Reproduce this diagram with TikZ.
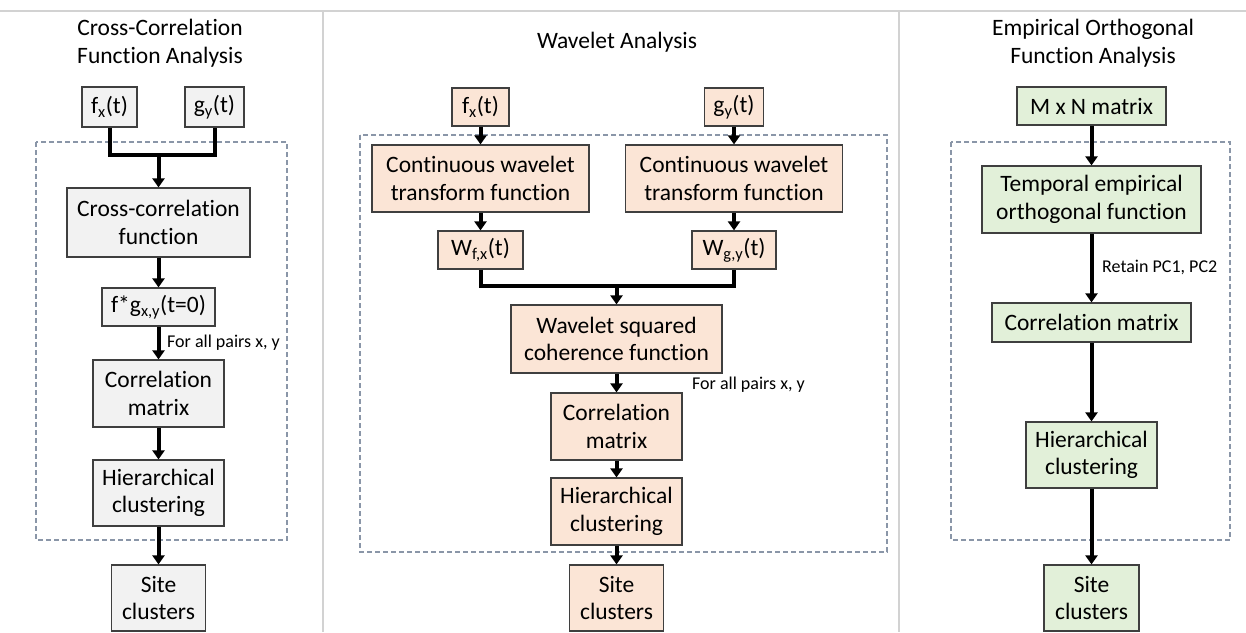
\documentclass[tikz,border=0pt]{standalone}
\usepackage{fontspec}
\setmainfont{Carlito}[Ligatures=NoCommon]
\usetikzlibrary{arrows.meta}

\definecolor{fillgray}{HTML}{F2F2F2}
\definecolor{fillpeach}{HTML}{FBE5D6}
\definecolor{fillgreen}{HTML}{E2F0D9}
\definecolor{edgegray}{HTML}{3F3F3F}
\definecolor{framegray}{HTML}{8A96A8}
\definecolor{rulegray}{HTML}{D2D2D2}

\begin{document}
\begin{tikzpicture}[x=1pt, y=-1pt, >={Triangle[length=9pt,width=12pt]},
    every node/.style={font=\fontsize{23.5}{27.5}\selectfont, text=black, align=center, inner sep=0pt},
    stage/.style={draw=edgegray, line width=1.2pt},
    ccbox/.style={stage, fill=fillgray},
    wvbox/.style={stage, fill=fillpeach},
    eofbox/.style={stage, fill=fillgreen},
    flow/.style={->, line width=4pt},
    link/.style={line width=4pt, line join=miter},
    frame/.style={draw=framegray, line width=1.1pt, dash pattern=on 5pt off 3pt},
    note/.style={font=\fontsize{18}{22}\selectfont, anchor=west}]

    \useasboundingbox (0,0) rectangle (1246,632);

    % panel rules
    \draw[rulegray, line width=1.5pt] (0,11) -- (1246,11);
    \draw[rulegray, line width=1.5pt] (323,11) -- (323,632);
    \draw[rulegray, line width=1.5pt] (899,11) -- (899,632);

    % dashed frames round each method
    \draw[frame] (36,142) rectangle (287,540);
    \draw[frame] (360,135) rectangle (887,552);
    \draw[frame] (951,142) rectangle (1230,540);

    % cross-correlation column
    \node (titleL) at (160,43) {Cross-Correlation\\Function Analysis};
    \node[ccbox, minimum width=55pt, minimum height=40pt] (fxL) at (109.5,107) {f\textsubscript{x}(t)};
    \node[ccbox, minimum width=59pt, minimum height=40pt] (gyL) at (214.5,107) {g\textsubscript{y}(t)};
    \node[ccbox, minimum width=183pt, minimum height=69pt] (ccfL) at (158.5,222.5) {Cross-correlation\\function};
    \node[ccbox, minimum width=113pt, minimum height=38pt] (fgL) at (158.5,307) {f*g\textsubscript{x,y}(t=0)};
    \node[ccbox, minimum width=131pt, minimum height=67pt] (cmL) at (158.5,393.5) {Correlation\\matrix};
    \node[ccbox, minimum width=131pt, minimum height=66pt] (hcL) at (158.5,493) {Hierarchical\\clustering};
    \node[ccbox, minimum width=94pt, minimum height=66pt] (scL) at (158.5,598) {Site\\clusters};
    \coordinate (joinL) at (158.5,155);
    \node[note] (pairsL) at (167,343) {For all pairs x, y};

    % wavelet column
    \node (titleM) at (617,42) {Wavelet Analysis};
    \node[wvbox, minimum width=57pt, minimum height=38pt] (fxM) at (480.5,107) {f\textsubscript{x}(t)};
    \node[wvbox, minimum width=59pt, minimum height=38pt] (gyM) at (734,107) {g\textsubscript{y}(t)};
    \node[wvbox, minimum width=217pt, minimum height=67pt] (cwtA) at (480.5,178.5) {Continuous wavelet\\transform function};
    \node[wvbox, minimum width=217pt, minimum height=67pt] (cwtB) at (734,178.5) {Continuous wavelet\\transform function};
    \node[wvbox, minimum width=85pt, minimum height=38pt] (wfM) at (480.5,250) {W\textsubscript{f,x}(t)};
    \node[wvbox, minimum width=84pt, minimum height=38pt] (wgM) at (734,250) {W\textsubscript{g,y}(t)};
    \node[wvbox, minimum width=211pt, minimum height=68pt] (wscM) at (616.5,339) {Wavelet squared\\coherence function};
    \node[wvbox, minimum width=131pt, minimum height=67pt] (cmM) at (616.5,426.5) {Correlation\\matrix};
    \node[wvbox, minimum width=131pt, minimum height=67pt] (hcM) at (616.5,511.5) {Hierarchical\\clustering};
    \node[wvbox, minimum width=94pt, minimum height=66pt] (scM) at (616.5,598) {Site\\clusters};
    \coordinate (joinM) at (616.5,286);
    \node[note] (pairsM) at (692,385) {For all pairs x, y};

    % EOF column
    \node (titleR) at (1093,43) {Empirical Orthogonal\\Function Analysis};
    \node[eofbox, minimum width=149pt, minimum height=38pt] (mnR) at (1091.5,106) {M x N matrix};
    \node[eofbox, minimum width=219pt, minimum height=67pt] (teofR) at (1091.5,199.5) {Temporal empirical\\orthogonal function};
    \node[eofbox, minimum width=199pt, minimum height=39pt] (cmR) at (1091.5,322.5) {Correlation matrix};
    \node[eofbox, minimum width=131pt, minimum height=66pt] (hcR) at (1091.5,455) {Hierarchical\\clustering};
    \node[eofbox, minimum width=95pt, minimum height=66pt] (scR) at (1091.5,598) {Site\\clusters};
    \node[note] (retainR) at (1102,267) {Retain PC1, PC2};

    % joining the two inputs
    \draw[link] (fxL.south) |- (joinL) -| (gyL.south);
    \draw[flow] (joinL) -- (ccfL);
    \draw[link] (wfM.south) |- (joinM) -| (wgM.south);
    \draw[flow] (joinM) -- (wscM);

    \foreach \a/\b in {ccfL/fgL, fgL/cmL, cmL/hcL, hcL/scL,
                       fxM/cwtA, gyM/cwtB, cwtA/wfM, cwtB/wgM, wscM/cmM, cmM/hcM, hcM/scM,
                       mnR/teofR, teofR/cmR, cmR/hcR, hcR/scR} {
        \draw[flow] (\a) -- (\b);
    }
\end{tikzpicture}
\end{document}
